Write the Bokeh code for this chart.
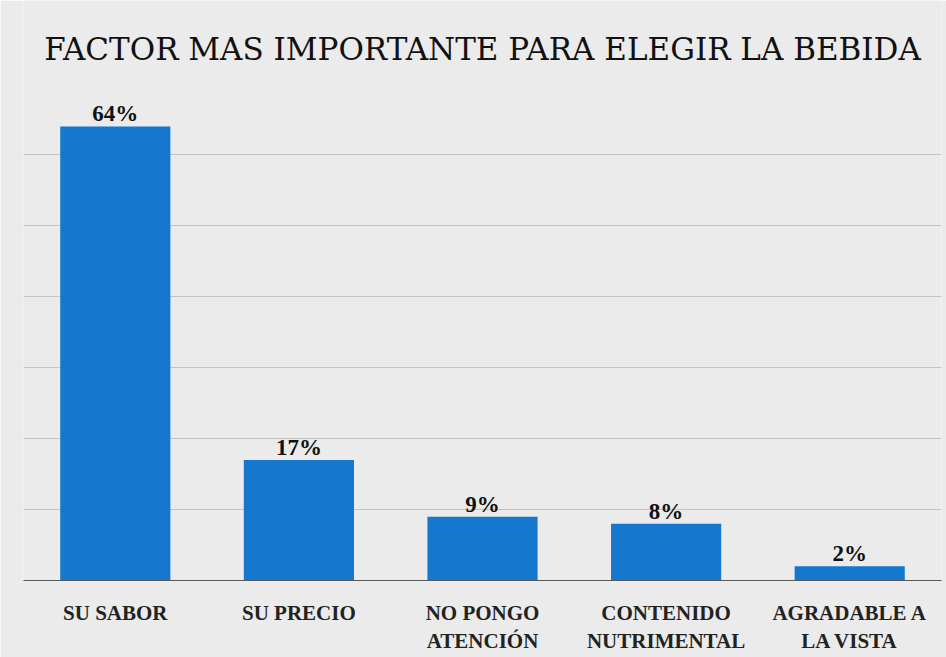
from bokeh.plotting import figure
from bokeh.models import FactorRange, Range1d, LabelSet, ColumnDataSource, Label
from bokeh.embed import file_html
from bokeh.resources import INLINE

title_text = "FACTOR MAS IMPORTANTE PARA ELEGIR LA BEBIDA"
labels = ["SU SABOR", "SU PRECIO", "NO PONGO\nATENCIÓN", "CONTENIDO\nNUTRIMENTAL", "AGRADABLE A\nLA VISTA"]
values = [64, 17, 9, 8, 2]
value_text = ["64%", "17%", "9%", "8%", "2%"]
grid_ticks = [10, 20, 30, 40, 50, 60]

src = ColumnDataSource(dict(x=labels, y=values, t=value_text))

p = figure(width=946, height=657, x_range=FactorRange(*labels, range_padding=0),
           y_range=Range1d(0, 81.75), output_backend="svg", toolbar_location=None,
           min_border_left=23, min_border_right=5, min_border_top=0, min_border_bottom=77)

bg = "#ebebeb"
p.background_fill_color = bg
p.border_fill_color = bg
p.outline_line_color = None

# categorical synthetic coordinate: centre of the 5-factor range
p.add_layout(Label(x=len(labels) / 2, y=74.9, text=title_text, text_align="center",
                   text_baseline="alphabetic", text_font="DejaVu Serif",
                   text_font_style="normal", text_font_size="31px", text_color="#111111"))

p.vbar(x="x", top="y", width=0.6, source=src, fill_color="#1677cf", line_color=None)

p.add_layout(LabelSet(x="x", y="y", text="t", source=src, text_align="center",
                      text_baseline="bottom", y_offset=0, text_font="Liberation Serif",
                      text_font_style="bold", text_font_size="23px", text_color="#111111"))

p.yaxis.visible = False
p.ygrid.ticker = grid_ticks
p.ygrid.grid_line_color = "#c4c4c4"
p.ygrid.grid_line_width = 1
p.xgrid.grid_line_color = None

p.xaxis.axis_line_color = "#5a5a5a"
p.xaxis.axis_line_width = 1
p.xaxis.major_tick_line_color = None
p.xaxis.minor_tick_line_color = None
p.xaxis.major_label_standoff = 14
p.xaxis.major_label_text_font = "Liberation Serif"
p.xaxis.major_label_text_font_style = "bold"
p.xaxis.major_label_text_font_size = "21px"
p.xaxis.major_label_text_line_height = 1.2
p.xaxis.major_label_text_color = "#222222"

open("out.html", "w").write(file_html(p, INLINE))
